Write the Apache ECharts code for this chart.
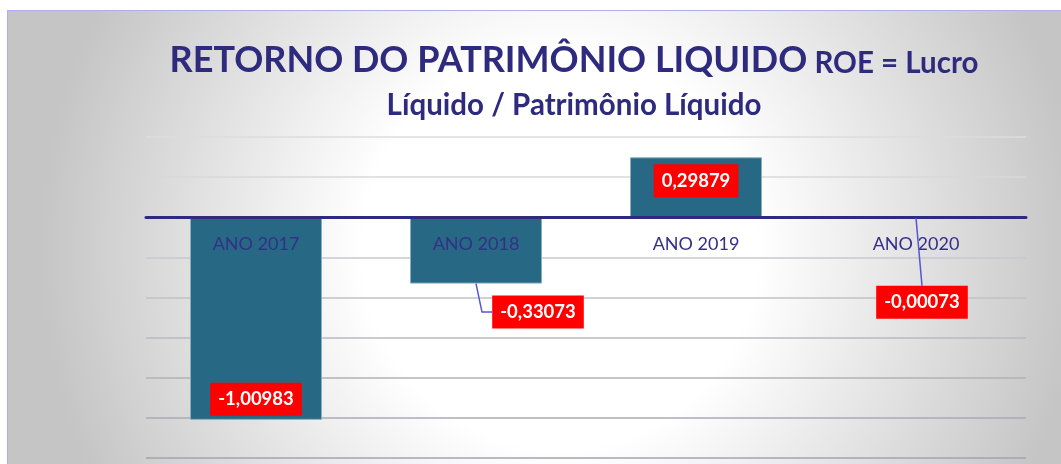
<!DOCTYPE html>
<html>
<head>
<meta charset="utf-8">
<script src="https://cdn.jsdelivr.net/npm/echarts@6/dist/echarts.min.js"></script>
<style>
  html, body { margin: 0; padding: 0; background: #fff; overflow: hidden; }
  #roeChart {
    position: absolute;
    left: 7px;
    top: 10px;
    width: 1054px;
    height: 454px;
    box-sizing: border-box;
    border-left: 1px solid #b1acef;
    border-top: 1px solid #b1acef;
  }
</style>
</head>
<body>
<div id="roeChart"></div>
<script>
// dados do gráfico
const categories = ['ANO 2017', 'ANO 2018', 'ANO 2019', 'ANO 2020']
const roeValues = [-1.00983, -0.33073, 0.29879, -0.00073]
const yMin = -1.2
const yMax = 0.4
const yStep = 0.2

const navy = '#2e2a7e'

function formatBr(v) {
  return v.toFixed(5).replace('.', ',')
}

// posição de cada rótulo (estilo, não dado)
const labelPlace = [
  { position: 'insideBottom', distance: 4 },
  { position: 'outside', distance: 5 },
  { position: 'insideTop', distance: 7 },
  { position: 'outside', distance: 5 }
]
const labelShift = [[0, 0], [62, 7], [0, 0], [6, 63]]
// tipo de linha guia: 0 nenhuma, 1 cotovelo até a esquerda do rótulo, 2 reta até o topo
const leaderKind = [0, 1, 0, 2]

const gridTop = 126
const gridBottom = 6
const chartEl = document.getElementById('roeChart')
const chart = echarts.init(chartEl)

// eixo de categorias desenhado sobre a linha do zero
const plotH = chartEl.clientHeight - gridTop - gridBottom
const zeroOffset = -plotH * (0 - yMin) / (yMax - yMin)

// linhas guia calculadas a partir da barra e do rótulo já posicionados
const leaderPts = []
function layoutLabel(params) {
  const i = params.dataIndex
  const s = labelShift[i]
  const r = params.rect
  const lr = params.labelRect
  const lx = lr.x + s[0]
  const ly = lr.y + s[1]
  const cx = r.x + r.width / 2
  if (leaderKind[i] === 1) {
    const midY = ly + lr.height / 2
    leaderPts[i] = [[cx, r.y + r.height], [cx + 6, midY], [lx, midY]]
  } else if (leaderKind[i] === 2) {
    leaderPts[i] = [[cx, r.y + 1], [lx + lr.width / 2, ly]]
  }
  return { dx: s[0], dy: s[1] }
}

chart.setOption({
  backgroundColor: new echarts.graphic.RadialGradient(552, 239, 520, [
    { offset: 0, color: '#ffffff' },
    { offset: 0.38, color: '#ffffff' },
    { offset: 1, color: '#c5c5c5' }
  ], true),
  animation: false,
  title: {
    left: 566,
    top: 26,
    padding: 0,
    textAlign: 'center',
    text: '{a|RETORNO DO PATRIMÔNIO LIQUIDO}{b| ROE = Lucro}\n{c|Líquido / Patrimônio Líquido}',
    textStyle: {
      rich: {
        a: { fontFamily: 'Lato', fontWeight: 'bold', fontSize: 36, lineHeight: 47, color: navy },
        b: { fontFamily: 'Lato', fontWeight: 'bold', fontSize: 29.5, color: navy, padding: [5, 0, 0, 0] },
        c: { fontFamily: 'Lato', fontWeight: 'bold', fontSize: 29.5, lineHeight: 42, color: navy }
      }
    }
  },
  grid: {
    left: 138,
    right: 35,
    top: gridTop,
    bottom: gridBottom,
    containLabel: false,
    outerBoundsMode: 'none'
  },
  xAxis: {
    type: 'category',
    data: categories,
    position: 'bottom',
    offset: zeroOffset,
    z: 5,
    axisLine: {
      onZero: false,
      lineStyle: { color: navy, width: 3 }
    },
    axisTick: { show: false },
    axisLabel: {
      margin: 18,
      fontFamily: 'Lato',
      fontSize: 18,
      color: '#34308a'
    },
    splitLine: { show: false }
  },
  yAxis: {
    type: 'value',
    min: yMin,
    max: yMax,
    interval: yStep,
    axisLine: { show: false },
    axisTick: { show: false },
    axisLabel: { show: false },
    splitLine: {
      lineStyle: {
        width: 1.5,
        color: ['#a3a3ae', '#aaaab4', '#b1b1ba', '#b8b8c0', '#c0c0c7', '#c8c8ce', '#d0d0d4', '#d8d8db', '#dcdcde']
      }
    }
  },
  series: [
    {
      type: 'bar',
      barWidth: '60%',
      itemStyle: {
        color: '#276884',
        borderColor: '#86aebf',
        borderWidth: 1
      },
      label: {
        show: true,
        formatter: (p) => formatBr(p.value),
        backgroundColor: '#ff0000',
        color: '#ffffff',
        fontFamily: 'Lato',
        fontWeight: 'bold',
        fontSize: 18.5,
        lineHeight: 19,
        padding: [7, 8]
      },
      labelLayout: layoutLabel,
      data: roeValues.map((v, i) => ({
        value: v,
        label: labelPlace[i]
      }))
    }
  ]
})

chart.setOption({
  graphic: leaderPts.filter(Boolean).map((pts) => ({
    type: 'polyline',
    z: 10,
    silent: true,
    shape: { points: pts },
    style: { stroke: '#5a55d0', lineWidth: 1.5, fill: null }
  }))
})
</script>
</body>
</html>
